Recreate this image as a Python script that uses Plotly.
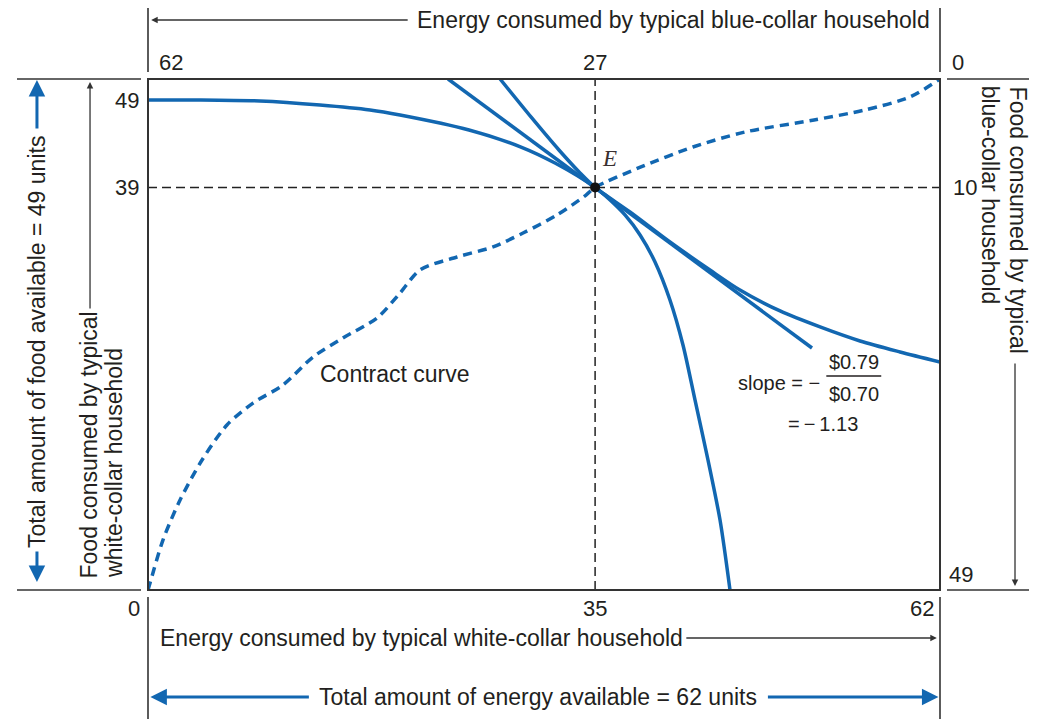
import plotly.graph_objects as go

# ---------------- data ----------------
energy_total = 62
food_total = 49
E_point = (35, 39)

# tick labels
energy_white_ticks = [0, 35, 62]          # bottom axis (white-collar energy)
energy_blue_ticks = [62, 27, 0]           # top axis (blue-collar energy)
food_white_ticks = [0, 39, 49]            # left axis (white-collar food)
food_blue_ticks = [0, 10, 49]             # right axis (blue-collar food)

# contract curve (dashed)
contract_x = [0, 0.16, 1.17, 2.51, 4.23, 6.18, 8.22, 10.57, 12.92, 15.26, 17.93, 19.73,
              21.29, 24.19, 27.01, 29.36, 32.02, 34.29, 35, 38.59, 42.66, 46.74, 52.14,
              56.13, 59.65, 62]
contract_y = [0, 0.68, 4.84, 8.72, 12.59, 15.98, 18.11, 19.86, 22.57, 24.41, 26.35, 28.77,
              31.00, 32.26, 33.23, 34.58, 36.33, 38.26, 39, 40.98, 42.91, 44.37, 45.53,
              46.50, 47.76, 49.5]

# indifference curve of one household (flat top-left, steep down to bottom)
icA_x = [0, 4.07, 8.77, 13.46, 17.38, 19.73, 25.13, 29.20, 31.86, 35, 36.17, 37.34,
         38.52, 39.69, 40.86, 41.88, 42.82, 43.84, 44.78, 45.56]
icA_y = [47.47, 47.47, 47.37, 46.98, 46.50, 46.01, 44.56, 42.91, 41.36, 39, 37.78, 36.33,
         34.39, 31.77, 28.09, 23.73, 18.41, 12.59, 6.78, 0]

# indifference curve of the other household (steep top, flattening to right edge)
icB_x = [27.56, 29.98, 32.17, 33.82, 35, 37.73, 40.86, 43.99, 46.34, 49.48, 52.61,
         55.74, 58.87, 62]
icB_y = [49.5, 45.82, 42.62, 40.40, 39, 36.62, 33.71, 31.00, 29.06, 27.03, 25.48,
         24.12, 23.06, 22.09]

# price line through E
price_x = [23.49, 51.98]
price_y = [49.5, 23.44]

# ---------------- styles ----------------
BLUE = "#1267b1"
INK = "#231f20"
FONT = "Liberation Sans, Arial, sans-serif"
Y_TOP = 49.5
TS = 23   # main label size
NS = 22   # number size

fig = go.Figure()

# dashed reference lines through E
fig.add_trace(go.Scatter(x=[E_point[0], E_point[0]], y=[0, Y_TOP], mode="lines",
                         line=dict(color="#222", width=1.5, dash="9px,5px"),
                         hoverinfo="skip", showlegend=False))
fig.add_trace(go.Scatter(x=[0, energy_total], y=[E_point[1], E_point[1]], mode="lines",
                         line=dict(color="#222", width=1.5, dash="9px,5px"),
                         hoverinfo="skip", showlegend=False))

fig.add_trace(go.Scatter(x=contract_x, y=contract_y, mode="lines",
                         line=dict(color=BLUE, width=3.5, dash="9px,6px", shape="spline", smoothing=0.8),
                         showlegend=False))
fig.add_trace(go.Scatter(x=icA_x, y=icA_y, mode="lines",
                         line=dict(color=BLUE, width=3.5, shape="spline", smoothing=0.8),
                         showlegend=False))
fig.add_trace(go.Scatter(x=icB_x, y=icB_y, mode="lines",
                         line=dict(color=BLUE, width=3.5, shape="spline", smoothing=0.8),
                         showlegend=False))
fig.add_trace(go.Scatter(x=price_x, y=price_y, mode="lines",
                         line=dict(color=BLUE, width=3.5),
                         showlegend=False))
fig.add_trace(go.Scatter(x=[E_point[0]], y=[E_point[1]], mode="markers",
                         marker=dict(color="#111", size=10),
                         showlegend=False))

shapes = []
def pline(x0, y0, x1, y1, w=1.6, color="#333"):
    shapes.append(dict(type="line", xref="paper", yref="paper", x0=x0, y0=y0, x1=x1, y1=y1,
                       line=dict(color=color, width=w)))

# box
shapes.append(dict(type="rect", xref="paper", yref="paper", x0=0, y0=0, x1=1, y1=1,
                   line=dict(color="#333", width=2)))
# extensions of the box edges
pline(-0.1654, 1, -0.0088, 1)
pline(1.0088, 1, 1.12, 1)
pline(-0.1654, 0, -0.0088, 0)
pline(1.0088, 0, 1.12, 0)
pline(0, 1.0137, 0, 1.16)
pline(1, 1.0137, 1, 1.16)
pline(0, -0.0137, 0, -0.26)
pline(1, -0.0137, 1, -0.26)
# fraction bar of the slope label
shapes.append(dict(type="line", xref="x", yref="y", x0=53.1, x1=57.4, y0=20.73, y1=20.73,
                   line=dict(color=INK, width=1.3)))

ann = []
def text(x, y, s, size=TS, xref="paper", yref="paper", xanchor="center", yanchor="middle", **kw):
    d = dict(x=x, y=y, xref=xref, yref=yref, text=s, showarrow=False,
             xanchor=xanchor, yanchor=yanchor,
             font=dict(family=FONT, size=size, color=INK))
    d.update(kw)
    ann.append(d)

def arrow(x, y, ax, ay, color="#333", width=1.3, head=2, size=1.0):
    ann.append(dict(x=x, y=y, xref="paper", yref="paper", ax=ax, ay=ay, axref="pixel", ayref="pixel",
                    text="", showarrow=True, arrowhead=head, arrowsize=size, arrowwidth=width,
                    arrowcolor=color))

# axis titles
text(0.3371, 1.1155, "Energy consumed by typical blue-collar household", xanchor="left")
arrow(0.004, 1.1155, 258, 0)
text(0.0126, -0.0939, "Energy consumed by typical white-collar household", xanchor="left")
arrow(0.996, -0.0939, -252, 0)
text(0.4918, -0.2094, "Total amount of energy available = 62 units")
arrow(0.003, -0.2094, 160, 0, color=BLUE, width=3, size=1.1)
arrow(0.998, -0.2094, -172, 0, color=BLUE, width=3, size=1.1)

text(-0.1402, 0.4853, "Total amount of food available = 49 units", textangle=-90)
arrow(-0.1402, 0.998, 0, 50, color=BLUE, width=3, size=1.1)
arrow(-0.1402, 0.0157, 0, -32, color=BLUE, width=3, size=1.1)

text(-0.0745, 0.0196, "Food consumed by typical", textangle=-90, yanchor="bottom")
text(-0.0430, 0.0196, "white-collar household", textangle=-90, yanchor="bottom")
arrow(-0.0732, 0.994, 0, 228)

text(1.0985, 0.990, "Food consumed by typical", textangle=90, yanchor="top")
text(1.0631, 0.990, "blue-collar household", textangle=90, yanchor="top")
arrow(1.0947, 0.0078, 0, -224)

# tick labels (shared origins are labelled once)
for v in energy_white_ticks:
    if v == 0:
        text(v, 0, str(v), NS, "x", "y", xanchor="right", xshift=-6, yshift=-18)
    elif v == energy_total:
        text(v, 0, str(v), NS, "x", "y", xanchor="right", xshift=-4, yshift=-18)
    else:
        text(v, 0, str(v), NS, "x", "y", yshift=-18)
for v in energy_blue_ticks:
    xpos = energy_total - v
    if v == energy_total:
        text(xpos, Y_TOP, str(v), NS, "x", "y", xanchor="left", xshift=9, yshift=17)
    elif v == 0:
        text(xpos, Y_TOP, str(v), NS, "x", "y", xanchor="left", xshift=10, yshift=17)
    else:
        text(xpos, Y_TOP, str(v), NS, "x", "y", yshift=17)
for v in food_white_ticks:
    if v == 0:
        continue  # same corner label as the bottom axis 0
    elif v == food_total:
        text(0, v, str(v), NS, "x", "y", xanchor="right", xshift=-7, yshift=-16)
    else:
        text(0, v, str(v), NS, "x", "y", xanchor="right", xshift=-7)
for v in food_blue_ticks:
    ypos = food_total - v
    if v == 0:
        continue  # same corner label as the top axis 0
    elif v == food_total:
        text(energy_total, ypos, str(v), NS, "x", "y", xanchor="left", xshift=7, yshift=16)
    else:
        text(energy_total, ypos, str(v), NS, "x", "y", xanchor="left", xshift=11)

# in-plot labels
text(E_point[0], E_point[1], "<i>E</i>", 23, "x", "y", xanchor="left", xshift=5, yshift=29,
     font=dict(family="Liberation Serif, Times New Roman, serif", size=23, color="#3a3030"))
text(19.34, 20.92, "Contract curve", TS, "x", "y")
text(52.76, 20.05, "slope = \u2212", 20, "x", "y", xanchor="right")
text(55.3, 22.09, "$0.79", 20, "x", "y")
text(55.3, 18.99, "$0.70", 20, "x", "y")
text(52.84, 16.08, "=\u2009\u2212\u20091.13", 20, "x", "y")

# the page adds an 8px body margin; margins compensate so the box sits where it should
fig.update_layout(
    width=1029, height=711, autosize=False,
    margin=dict(l=140, r=97, t=71, b=129),
    paper_bgcolor="white", plot_bgcolor="white",
    xaxis=dict(range=[0, energy_total], showgrid=False, zeroline=False, showticklabels=False,
               showline=False, fixedrange=True),
    yaxis=dict(range=[0, Y_TOP], showgrid=False, zeroline=False, showticklabels=False,
               showline=False, fixedrange=True),
    shapes=shapes, annotations=ann, showlegend=False,
)

fig.write_html("out.html")
